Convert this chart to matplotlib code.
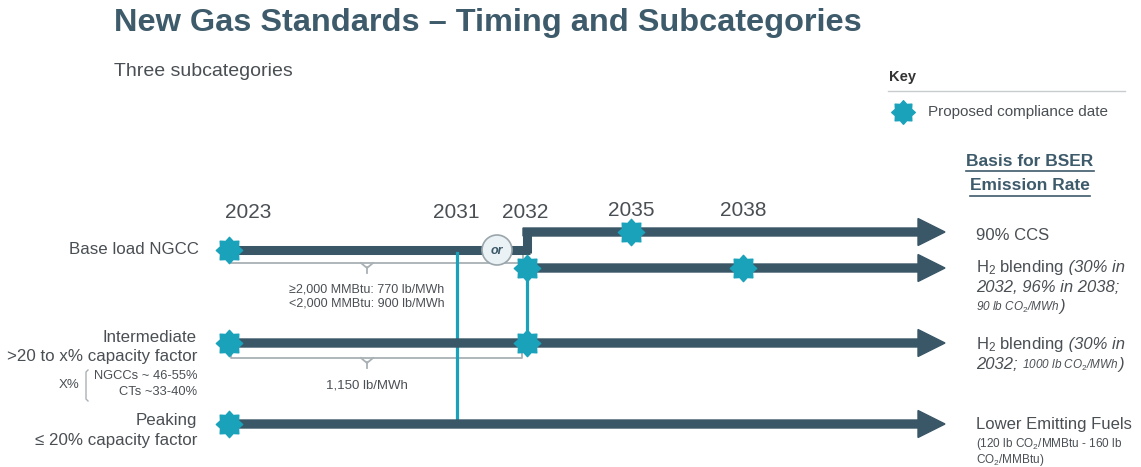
import numpy as np
import matplotlib
matplotlib.use("Agg")
import matplotlib.pyplot as plt
from matplotlib.path import Path

plt.rcParams["font.family"] = ["Liberation Sans", "DejaVu Sans"]
plt.rcParams["mathtext.fontset"] = "custom"
plt.rcParams["mathtext.rm"] = "Liberation Sans"
plt.rcParams["mathtext.it"] = "Liberation Sans:italic"

DARK = "#3a5767"
TEAL = "#1aa2bb"
GREY = "#4a4f54"
LIGHT = "#a9b1b5"

# timeline
years = [2023, 2031, 2032, 2035, 2038]
year_x = [229, 457, 527, 631, 743]
X = dict(zip(years, year_x))
END_X = 945

# tracks (y position of each bar)
track_y = {"ccs": 232, "base": 250, "h2": 268, "int": 343, "peak": 424}

# proposed compliance dates: (track, year)
compliance = [("base", 2023), ("h2", 2032), ("ccs", 2035), ("h2", 2038),
              ("int", 2023), ("int", 2032), ("peak", 2023)]

row_labels = [("Base load NGCC",), ("Intermediate", ">20 to x% capacity factor"),
              ("Peaking", "\u2264 20% capacity factor")]
base_rates = ["\u22652,000 MMBtu: 770 lb/MWh", "<2,000 MMBtu: 900 lb/MWh"]
int_rate = "1,150 lb/MWh"
x_pct = ["NGCCs ~ 46-55%", "CTs ~33-40%"]


def star_marker(n=8, inner=0.74):
    ang = np.linspace(0, 2 * np.pi, 2 * n, endpoint=False) + np.pi / 2
    r = np.where(np.arange(2 * n) % 2 == 0, 1.0, inner)
    v = np.column_stack([r * np.cos(ang), r * np.sin(ang)])
    v = np.vstack([v, v[:1]])
    codes = [Path.MOVETO] + [Path.LINETO] * (2 * n - 1) + [Path.CLOSEPOLY]
    return Path(v, codes)


STAR = star_marker()

fig = plt.figure(figsize=(11.41, 4.67), dpi=100)
ax = fig.add_axes([0, 0, 1, 1])
ax.set_xlim(0, 1141)
ax.set_ylim(467, 0)
ax.axis("off")

# titles
ax.text(114, 23, "New Gas Standards \u2013 Timing and Subcategories", fontsize=23.4,
        fontweight="bold", color="#3e5b6b", va="center", ha="left")
ax.text(114, 71, "Three subcategories", fontsize=14, color=GREY, va="center")

# key
ax.text(889, 77, "Key", fontsize=10.5, fontweight="bold", color="#333", va="center")
ax.plot([888, 1125], [91, 91], color="#c8cccf", lw=1)
ax.plot([903], [112], marker=STAR, ms=17, color=TEAL, mec=TEAL)
ax.text(928, 112, "Proposed compliance date", fontsize=11, color=GREY, va="center")

# BSER header, underlined
for y, s in [(161, "Basis for BSER"), (186, "Emission Rate")]:
    t = ax.text(1030, y, s, fontsize=12.5, fontweight="bold", color="#3e5b6b",
                ha="center", va="center")
    fig.canvas.draw()
    bb = t.get_window_extent().transformed(ax.transData.inverted())
    ax.plot([bb.x0, bb.x1], [y + 10, y + 10], color="#3e5b6b", lw=1.2)

# year labels
for yr, lx, ly in zip(years, [248, 456, 525, 631, 743], [212, 212, 212, 210, 210]):
    ax.text(lx, ly, str(yr), fontsize=15, color=GREY, ha="center", va="center")

# bars and arrows
ah = dict(width=8, head_width=27, head_length=27, length_includes_head=True,
          color=DARK, ec=DARK, zorder=3)
ax.plot([X[2023], X[2032] + 3], [track_y["base"]] * 2, color=DARK, lw=6.5,
        solid_capstyle="butt", zorder=2)
ax.plot([X[2032], X[2032]], [track_y["base"] + 3, track_y["ccs"] - 4], color=DARK,
        lw=6.5, solid_capstyle="butt", zorder=2)
ax.arrow(X[2032] - 4, track_y["ccs"], END_X - X[2032] + 4, 0, **ah)
ax.arrow(X[2032], track_y["h2"], END_X - X[2032], 0, **ah)
ax.arrow(X[2023], track_y["int"], END_X - X[2023], 0, **ah)
ax.arrow(X[2023], track_y["peak"], END_X - X[2023], 0, **ah)

# "or" circle
circ = plt.Circle((497, track_y["base"]), 15, fc="#eaf2f5", ec="#9aa6ab", lw=1.2, zorder=4)
ax.add_patch(circ)
ax.text(497, track_y["base"] + 1, "or", fontsize=9, style="italic", fontweight="bold",
        color=DARK, ha="center", va="center", zorder=5)

# teal connectors
ax.plot([X[2031], X[2031]], [track_y["base"] + 3, track_y["peak"] - 3], color=TEAL,
        lw=2.3, zorder=2)
ax.plot([X[2032], X[2032]], [track_y["h2"], track_y["int"]], color=TEAL, lw=2.3, zorder=2)

# braces under base load and intermediate
for yb, x1 in [(263, X[2032] - 4), (358, X[2032] - 5)]:
    ax.plot([231, 231, x1, x1], [yb - 9, yb, yb, yb - 9], color=LIGHT, lw=1.3, zorder=1)
    ax.plot([361, 367, 373], [yb, yb + 5, yb], color=LIGHT, lw=1.3, zorder=1)
    ax.plot([367, 367], [yb + 4, yb + 10], color=LIGHT, lw=1.3, zorder=1)
ax.text(367, 289, base_rates[0], fontsize=9, color=GREY, ha="center", va="center")
ax.text(367, 304, base_rates[1], fontsize=9, color=GREY, ha="center", va="center")
ax.text(367, 386, int_rate, fontsize=9.5, color=GREY, ha="center", va="center")

# compliance stars
for trk, yr in compliance:
    ax.plot([X[yr]], [track_y[trk]], marker=STAR, ms=19, color=TEAL, mec=TEAL, zorder=6)

# left row labels
lab = dict(fontsize=12.2, color=GREY, ha="right", va="center")
ax.text(199, 249, row_labels[0][0], **lab)
ax.text(197, 337, row_labels[1][0], **lab)
ax.text(197, 356, row_labels[1][1], **lab)
ax.text(197, 421, row_labels[2][0], **lab)
ax.text(197, 441, row_labels[2][1], **lab)
ax.text(197, 376, x_pct[0], fontsize=9.3, color=GREY, ha="right", va="center")
ax.text(197, 392, x_pct[1], fontsize=9.3, color=GREY, ha="right", va="center")
ax.text(79, 385, "X%", fontsize=9.5, color=GREY, ha="right", va="center")
ax.plot([88, 86, 86, 88], [370, 372, 399, 401], color=LIGHT, lw=1)


def rich_line(x, y, parts):
    """Draw a run of differently styled text pieces on a shared baseline."""
    prev = None
    for s, size, italic in parts:
        kw = dict(fontsize=size, color=GREY, va="baseline", ha="left",
                  style="italic" if italic else "normal")
        if prev is None:
            prev = ax.text(x, y, s, **kw)
        else:
            prev = ax.annotate(s, xy=(1, y), xycoords=(prev, "data"), **kw)
    return prev


R = 976
rich_line(R, 240, [("90% CCS", 12, False)])
rich_line(R, 272, [("H$_2$ blending", 12, False), (" (30% in", 12, True)])
rich_line(R, 292, [("2032, 96% in 2038;", 12, True)])
rich_line(R, 311, [("90 lb CO$_2$/MWh", 8.5, True), (")", 12, True)])
rich_line(R, 349, [("H$_2$ blending", 12, False), (" (30% in", 12, True)])
rich_line(R, 369, [("2032; ", 12, True), ("1000 lb CO$_2$/MWh", 8.5, True), (")", 12, True)])
rich_line(R, 429, [("Lower Emitting Fuels", 12, False)])
rich_line(R, 447, [("(120 lb CO$_2$/MMBtu - 160 lb", 8.5, False)])
rich_line(R, 463, [("CO$_2$/MMBtu)", 8.5, False)])

fig.savefig("out.png", dpi=100, facecolor="white")
